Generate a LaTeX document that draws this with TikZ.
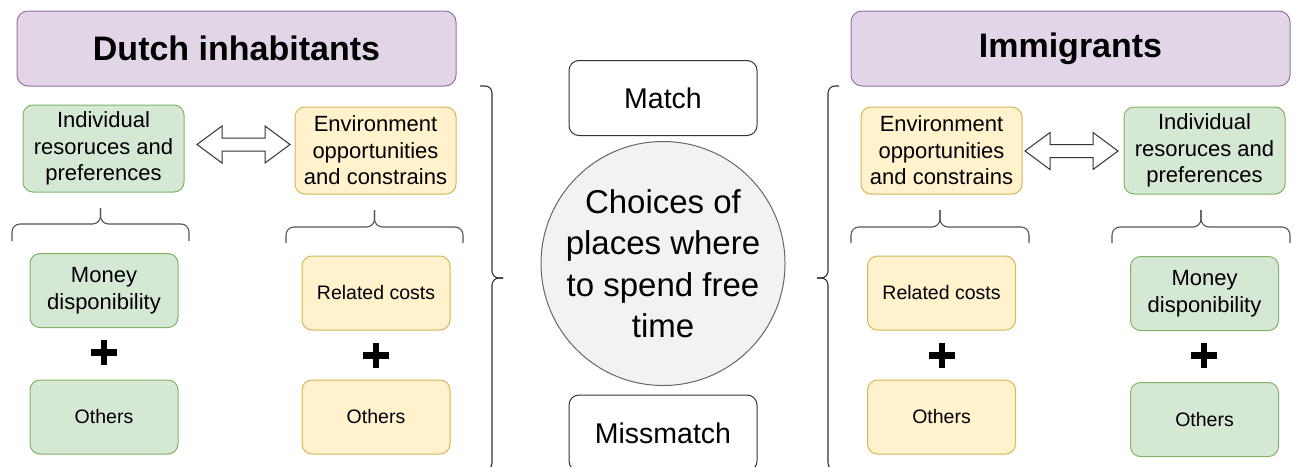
\documentclass[tikz,border=0pt]{standalone}
\usepackage{fontspec}
\setmainfont{Liberation Sans}
\definecolor{greenfill}{HTML}{D5E8D4}
\definecolor{greenline}{HTML}{82B366}
\definecolor{yellowfill}{HTML}{FFF2CC}
\definecolor{yellowline}{HTML}{D6B656}
\definecolor{purplefill}{HTML}{E1D5E7}
\definecolor{purpleline}{HTML}{9673A6}
\definecolor{circlefill}{HTML}{F2F2F2}
\definecolor{circleline}{HTML}{666666}
\definecolor{darkline}{HTML}{333333}
\definecolor{braceline}{HTML}{555555}

% horizontal brace opening downwards: left x, right x, tip y, middle y, end y
\newcommand\UpBrace[5]{%
  \draw[bracestyle] (#1,#5) -- (#1,#4) -- ({(#1+#2)/2},#4) -- ({(#1+#2)/2},#3);
  \draw[bracestyle] (#2,#5) -- (#2,#4) -- ({(#1+#2)/2},#4) -- ({(#1+#2)/2},#3);
}
% hollow double-headed arrow: left x, right x, centre y
\newcommand\DblArrow[3]{%
  \draw[arrowstyle] (#1,#3) -- ({#1+25},{#3-18.5}) -- ({#1+25},{#3-6.5})
    -- ({#2-25},{#3-6.5}) -- ({#2-25},{#3-18.5}) -- (#2,#3)
    -- ({#2-25},{#3+18.5}) -- ({#2-25},{#3+6.5}) -- ({#1+25},{#3+6.5})
    -- ({#1+25},{#3+18.5}) -- cycle;
}
% bold plus sign centred at x, y
\newcommand\PlusSign[2]{%
  \draw[plusstyle] ({#1-12.8},#2) -- ({#1+12.8},#2);
  \draw[plusstyle] (#1,{#2-12.8}) -- (#1,{#2+12.8});
}

\tikzset{
  box/.style={rounded corners=10pt, line width=1pt, align=center,
    inner sep=0pt, outer sep=0pt, text=black},
  greenbox/.style={box, fill=greenfill, draw=greenline},
  yellowbox/.style={box, fill=yellowfill, draw=yellowline},
  titlebox/.style={box, rounded corners=11pt, fill=purplefill, draw=purpleline,
    minimum width=439pt, minimum height=75pt,
    font=\fontsize{34}{40}\selectfont\bfseries},
  topbox/.style={minimum width=161pt, minimum height=87pt,
    font=\fontsize{22}{26.6}\selectfont},
  lowbox/.style={minimum width=148pt, minimum height=74pt},
  bigtext/.style={font=\fontsize{22}{26.6}\selectfont},
  smalltext/.style={font=\fontsize{19.5}{23}\selectfont},
  outcome/.style={box, fill=white, draw=darkline, minimum width=188pt,
    minimum height=75pt, font=\fontsize{28.5}{34}\selectfont},
  bracestyle/.style={draw=braceline, line width=1.1pt, rounded corners=8pt},
  bigbrace/.style={draw=darkline, line width=1.1pt, rounded corners=7pt},
  arrowstyle/.style={draw=darkline, fill=white, line width=1pt, line join=miter},
  plusstyle/.style={draw=black, line width=6.7pt},
}

\begin{document}
\begin{tikzpicture}[x=1pt, y=-1pt]
\useasboundingbox (0,0) rectangle (1297,466);
\clip (0,0) rectangle (1297,466);

% group headers
\node[titlebox] (dutch) at (236.5,48.5) {Dutch inhabitants};
\node[titlebox] (immi) at (1070.5,48.5) {Immigrants};

% Dutch inhabitants side
\node[greenbox, topbox] (indL) at (103.5,148.5) {Individual\\resoruces and\\preferences};
\node[yellowbox, topbox] (envL) at (375.5,150.5) {Environment\\opportunities\\and constrains};
\DblArrow{197}{290}{144.5}
\UpBrace{12}{189}{208}{224}{241}
\UpBrace{286}{463}{210}{227}{243}
\node[greenbox, lowbox, bigtext] (moneyL) at (104,290.5) {Money\\disponibility};
\node[greenbox, lowbox, smalltext] (othGL) at (104,417) {Others};
\node[yellowbox, lowbox, smalltext] (costL) at (376,293) {Related costs};
\node[yellowbox, lowbox, smalltext] (othYL) at (376,417) {Others};
\PlusSign{104}{352.5}
\PlusSign{376}{355.5}

% immigrants side
\node[yellowbox, topbox] (envR) at (941.5,150.5) {Environment\\opportunities\\and constrains};
\node[greenbox, topbox] (indR) at (1204.5,150.5) {Individual\\resoruces and\\preferences};
\DblArrow{1025}{1118}{151}
\UpBrace{851}{1029}{210}{227}{243}
\UpBrace{1112}{1290}{210}{227}{243}
\node[yellowbox, lowbox, smalltext] (costR) at (941.5,293) {Related costs};
\node[yellowbox, lowbox, smalltext] (othYR) at (941.5,417) {Others};
\node[greenbox, lowbox, bigtext] (moneyR) at (1204.5,293.5) {Money\\disponibility};
\node[greenbox, lowbox, smalltext] (othGR) at (1204.5,419.5) {Others};
\PlusSign{942}{355.5}
\PlusSign{1204}{355.5}

% large braces enclosing each side
\draw[bigbrace] (480,86) -- (492,86) -- (492,278) -- (503,278);
\draw[bigbrace] (480,470) -- (492,470) -- (492,278) -- (503,278);
\draw[bigbrace] (839,86) -- (828,86) -- (828,278) -- (817,278);
\draw[bigbrace] (839,470) -- (828,470) -- (828,278) -- (817,278);

% centre column
\node[outcome] (match) at (663,98) {Match};
\node[circle, draw=circleline, fill=circlefill, line width=1pt,
  minimum size=236pt, inner sep=0pt, align=center,
  font=\fontsize{33}{41.5}\selectfont] (choice) at (663,263.5)
  {Choices of\\places where\\to spend free\\time};
\node[outcome, minimum height=76pt] (miss) at (663,433) {Missmatch};
\end{tikzpicture}
\end{document}
